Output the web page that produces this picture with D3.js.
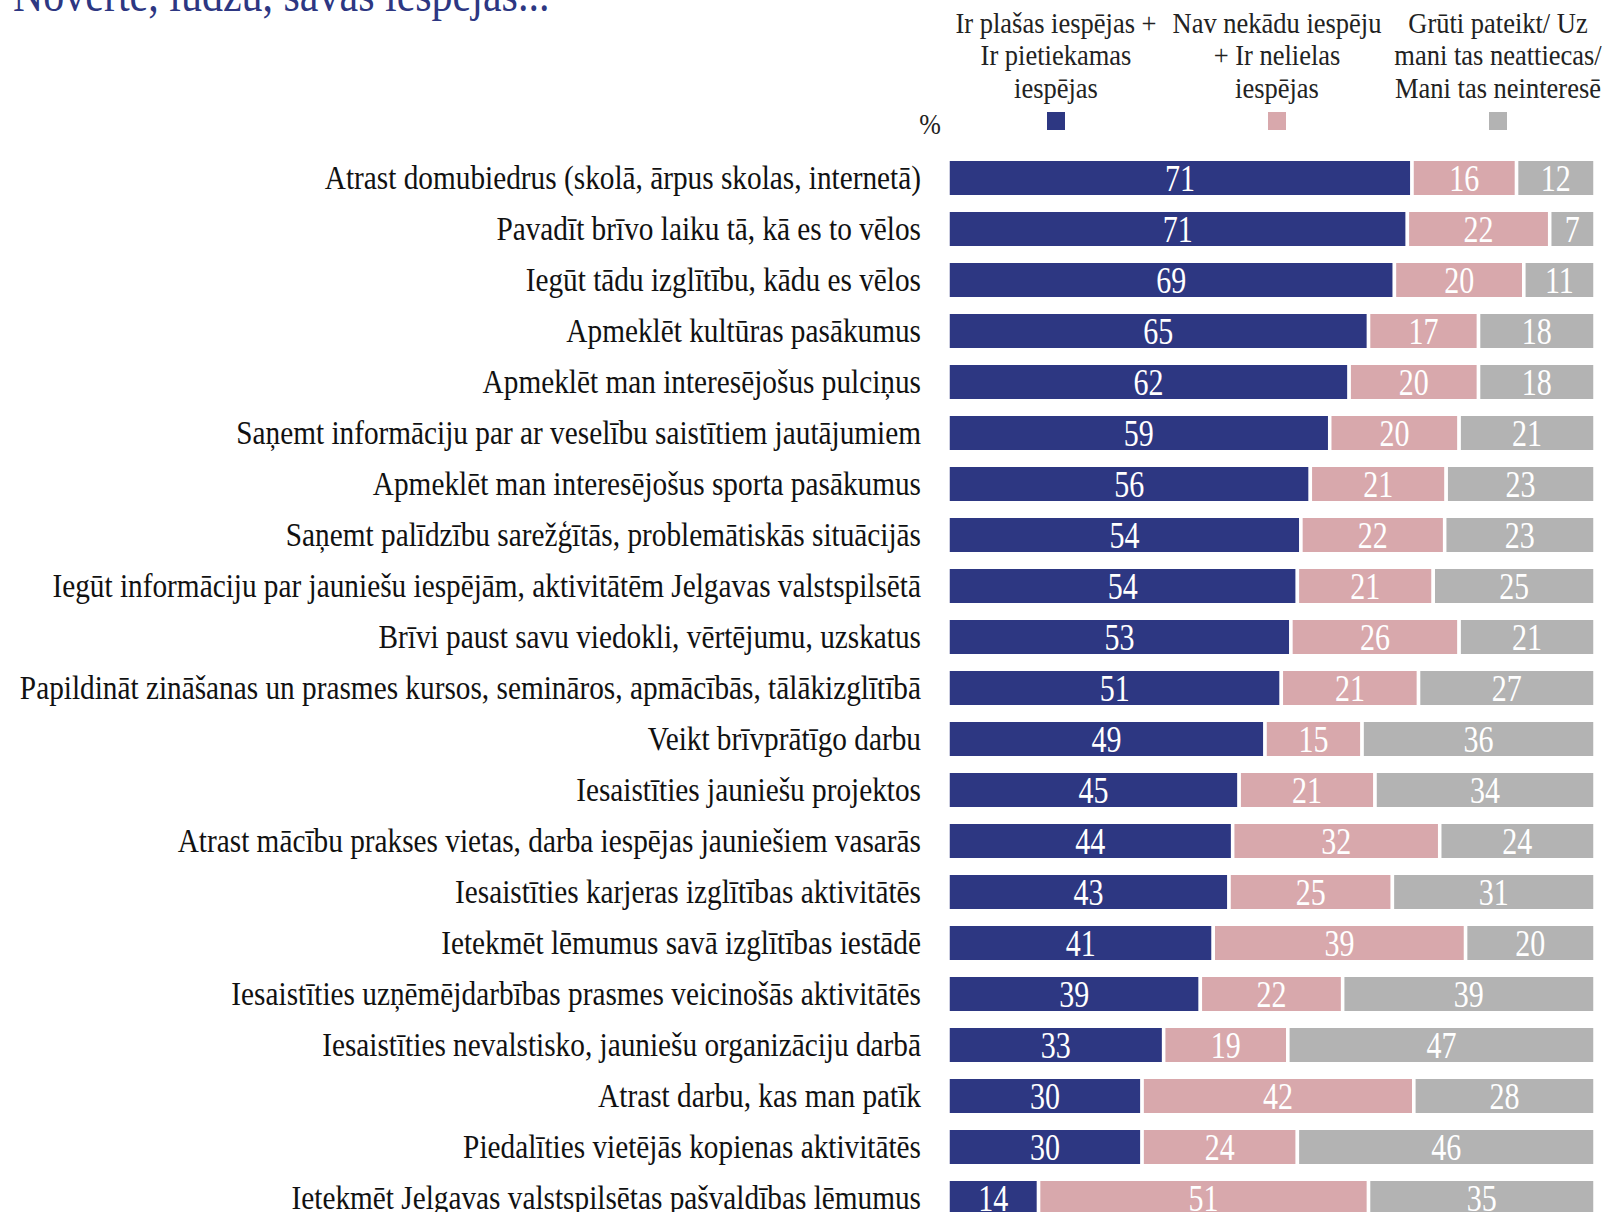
<!DOCTYPE html>
<html>
<head>
<meta charset="utf-8">
<script src="https://cdn.jsdelivr.net/npm/d3@7"></script>
<style>
  html, body { margin: 0; padding: 0; background: #fff; }
  svg { display: block; font-family: "Liberation Serif", "Times New Roman", serif; }
</style>
</head>
<body>
<div id="chart"></div>
<script>
// Chart values
const categories = [
  "Atrast domubiedrus (skolā, ārpus skolas, internetā)",
  "Pavadīt brīvo laiku tā, kā es to vēlos",
  "Iegūt tādu izglītību, kādu es vēlos",
  "Apmeklēt kultūras pasākumus",
  "Apmeklēt man interesējošus pulciņus",
  "Saņemt informāciju par ar veselību saistītiem jautājumiem",
  "Apmeklēt man interesējošus sporta pasākumus",
  "Saņemt palīdzību sarežģītās, problemātiskās situācijās",
  "Iegūt informāciju par jauniešu iespējām, aktivitātēm Jelgavas valstspilsētā",
  "Brīvi paust savu viedokli, vērtējumu, uzskatus",
  "Papildināt zināšanas un prasmes kursos, semināros, apmācībās, tālākizglītībā",
  "Veikt brīvprātīgo darbu",
  "Iesaistīties jauniešu projektos",
  "Atrast mācību prakses vietas, darba iespējas jauniešiem vasarās",
  "Iesaistīties karjeras izglītības aktivitātēs",
  "Ietekmēt lēmumus savā izglītības iestādē",
  "Iesaistīties uzņēmējdarbības prasmes veicinošās aktivitātēs",
  "Iesaistīties nevalstisko, jauniešu organizāciju darbā",
  "Atrast darbu, kas man patīk",
  "Piedalīties vietējās kopienas aktivitātēs",
  "Ietekmēt Jelgavas valstspilsētas pašvaldības lēmumus"
];
const hasOptions = [71, 71, 69, 65, 62, 59, 56, 54, 54, 53, 51, 49, 45, 44, 43, 41, 39, 33, 30, 30, 14];
const noOptions  = [16, 22, 20, 17, 20, 20, 21, 22, 21, 26, 21, 15, 21, 32, 25, 39, 22, 19, 42, 24, 51];
const hardToSay  = [12,  7, 11, 18, 18, 21, 23, 23, 25, 21, 27, 36, 34, 24, 31, 20, 39, 47, 28, 46, 35];

const seriesKeys = ["has", "no", "hard"];
const seriesLabels = [
  ["Ir plašas iespējas +", "Ir pietiekamas", "iespējas"],
  ["Nav nekādu iespēju", "+ Ir nelielas", "iespējas"],
  ["Grūti pateikt/ Uz", "mani tas neattiecas/", "Mani tas neinteresē"]
];
const seriesColors = ["#2d3782", "#d8a8ac", "#b3b3b3"];
const titleText = "Novērtē, lūdzu, savas iespējas...";

const width = 1608, height = 1212;
const margin = { top: 161, left: 948, right: 13 };

const rows = categories.map((c, i) => ({
  cat: c, has: hasOptions[i], no: noOptions[i], hard: hardToSay[i]
}));

// 100% stacked: each row fills the full width
const stacked = d3.stack().keys(seriesKeys).offset(d3.stackOffsetExpand)(rows);

const x = d3.scaleLinear().domain([0, 1]).range([margin.left, width - margin.right]);
const y = d3.scaleBand()
  .domain(categories)
  .range([margin.top - 8.5, margin.top - 8.5 + 51 * categories.length])
  .paddingInner(0.265)
  .paddingOuter(0.1325);
const color = d3.scaleOrdinal().domain(seriesKeys).range(seriesColors);

const svg = d3.select("#chart").append("svg")
  .attr("width", width)
  .attr("height", height);

// Title (partly cut at the top)
svg.append("text")
  .attr("transform", "translate(13,11) scale(1,1.15)")
  .attr("font-size", 42)
  .attr("fill", "#2d3782")
  .text(titleText);

// Legend
const legendX = [1056, 1277, 1498];
const legend = svg.append("g").attr("class", "legend");
seriesKeys.forEach((k, i) => {
  const t = legend.append("text")
    .attr("transform", `translate(${legendX[i]},32.5) scale(1,1.15)`)
    .attr("text-anchor", "middle")
    .attr("font-size", 26.5)
    .attr("fill", "#222");
  seriesLabels[i].forEach((line, j) => {
    t.append("tspan").attr("x", 0).attr("dy", j === 0 ? 0 : 28.6).text(line);
  });
  legend.append("rect")
    .attr("x", legendX[i] - 9)
    .attr("y", 112)
    .attr("width", 18)
    .attr("height", 18)
    .attr("fill", color(k));
});
svg.append("text")
  .attr("transform", "translate(930,134) scale(1,1.15)")
  .attr("text-anchor", "middle")
  .attr("font-size", 26)
  .attr("fill", "#222")
  .text("%");

// Category labels
svg.append("g")
  .attr("transform", `translate(${margin.left},0)`)
  .call(d3.axisLeft(y).tickSize(0).tickPadding(27))
  .call(g => g.select(".domain").remove())
  .call(g => g.selectAll(".tick text")
    .attr("font-size", 29.3)
    .attr("transform", "scale(1,1.18)")
    .attr("font-family", '"Liberation Serif", "Times New Roman", serif')
    .attr("fill", "#111"));

// Bars
const layers = svg.append("g").selectAll("g")
  .data(stacked)
  .join("g")
  .attr("fill", d => color(d.key));

layers.selectAll("rect")
  .data(d => d)
  .join("rect")
  .attr("x", d => x(d[0]))
  .attr("y", d => y(d.data.cat))
  .attr("width", d => x(d[1]) - x(d[0]))
  .attr("height", y.bandwidth())
  .attr("stroke", "#fff")
  .attr("stroke-width", 3.5);

// Value labels
layers.each(function(layer) {
  d3.select(this).selectAll("text")
    .data(layer)
    .join("text")
    .attr("transform", d => `translate(${(x(d[0]) + x(d[1])) / 2},${y(d.data.cat) + y.bandwidth() / 2}) scale(1,1.28)`)
    .attr("dy", "0.35em")
    .attr("text-anchor", "middle")
    .attr("font-size", 30)
    .attr("fill", "#fff")
    .text(d => d.data[layer.key]);
});
</script>
</body>
</html>
